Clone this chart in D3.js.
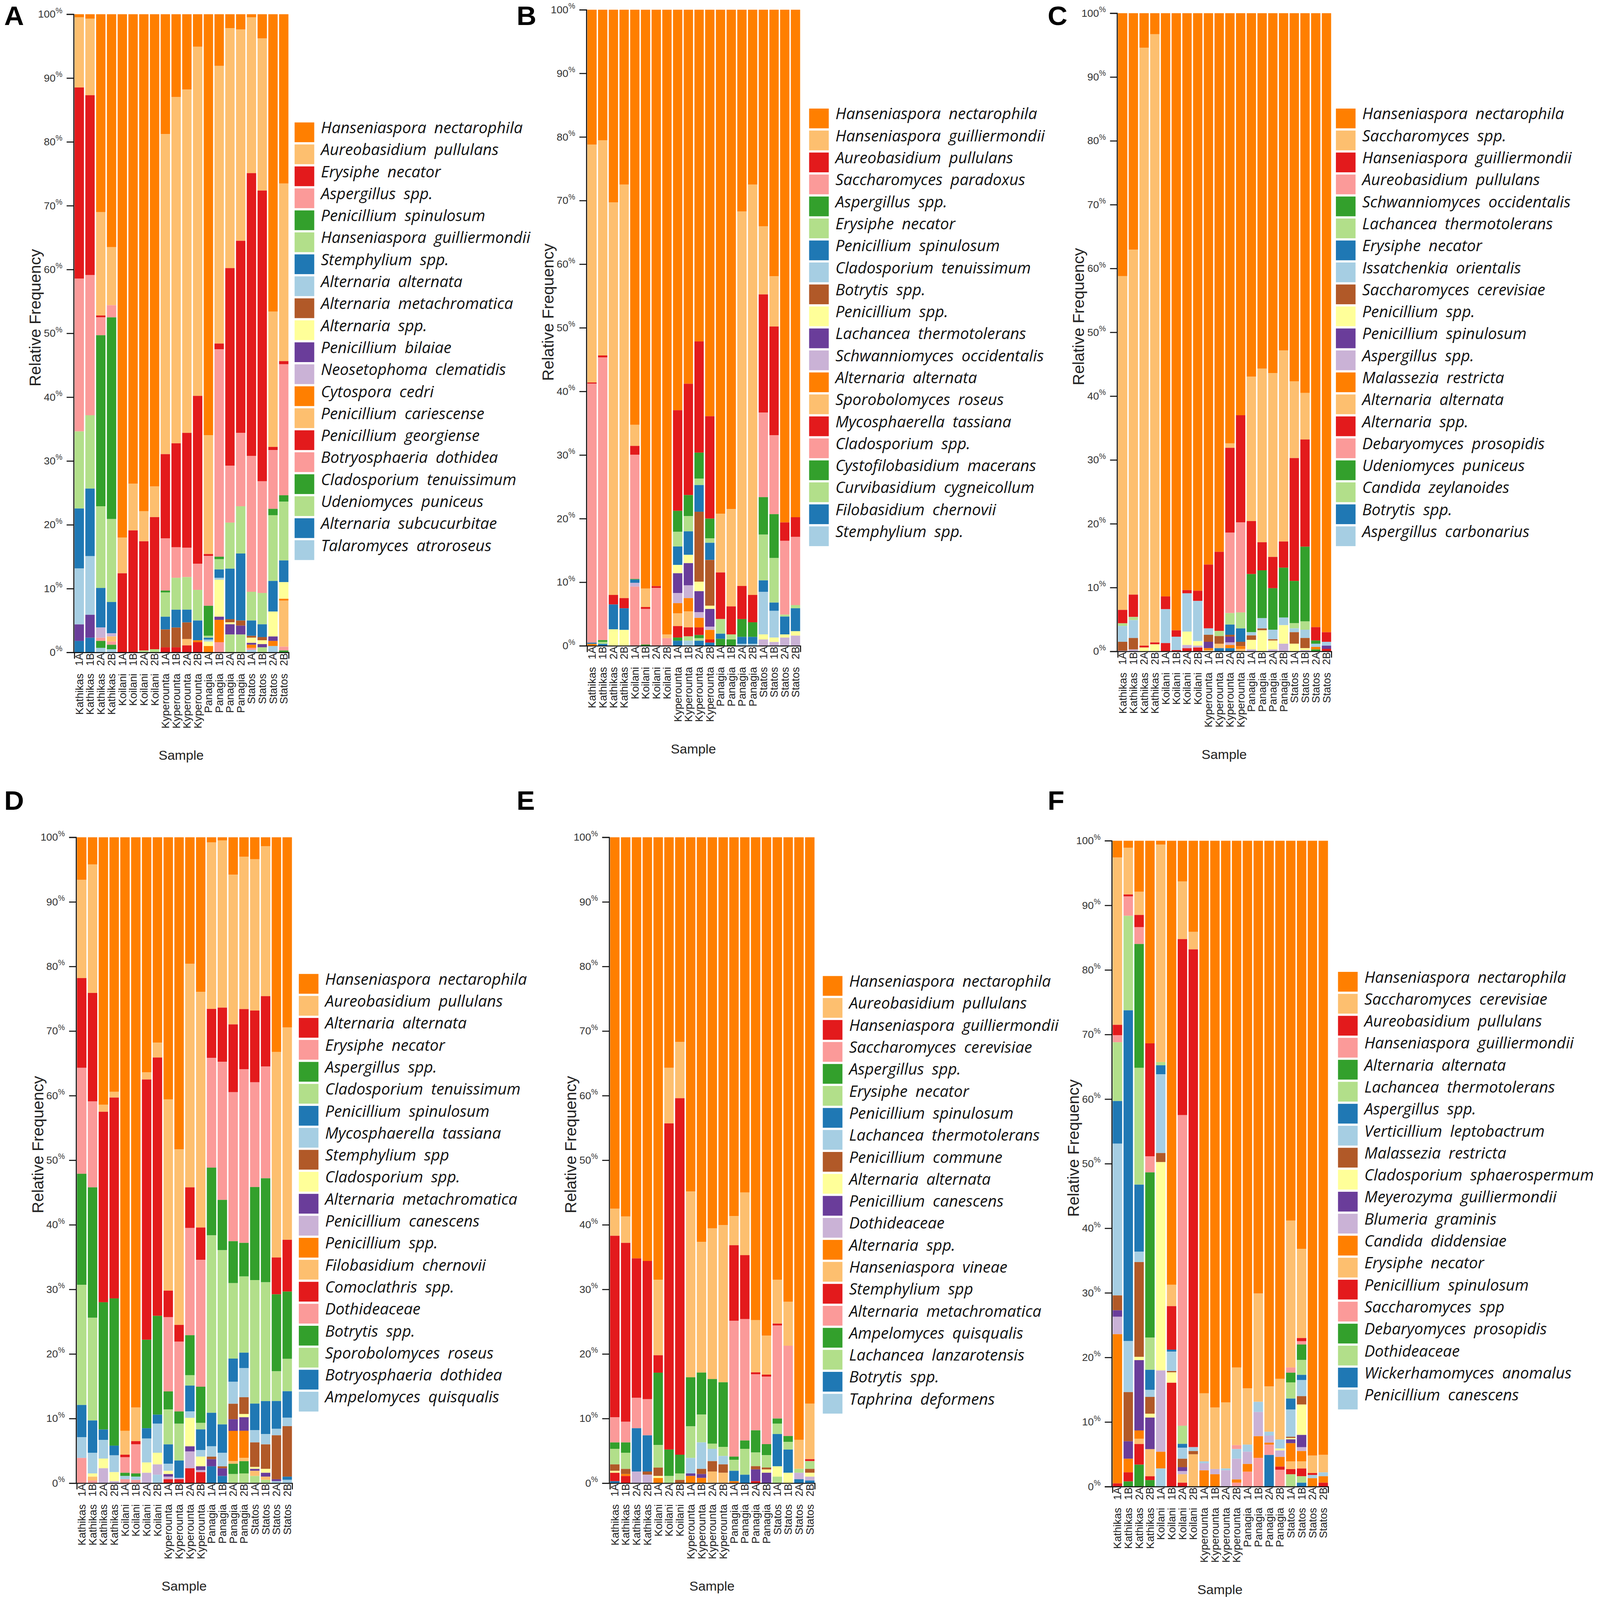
<!DOCTYPE html>
<html>
<head>
<meta charset="utf-8">
<script src="https://cdn.jsdelivr.net/npm/d3@7"></script>
<style>
  html, body { margin: 0; padding: 0; background: #fff; overflow: hidden; }
  #fig { display: block; width: 100vw; height: 100vh; }
</style>
</head>
<body>
<svg id="fig"></svg>
<script>
// sample names (panel E has no Koilani 1B)
const samples = ["Kathikas 1A","Kathikas 1B","Kathikas 2A","Kathikas 2B","Koilani 1A","Koilani 1B","Koilani 2A","Koilani 2B",
  "Kyperounta 1A","Kyperounta 1B","Kyperounta 2A","Kyperounta 2B","Panagia 1A","Panagia 1B","Panagia 2A","Panagia 2B",
  "Statos 1A","Statos 1B","Statos 2A","Statos 2B"];
const samplesE = samples.filter(s => s !== "Koilani 1B");

const speciesA = ["Hanseniaspora nectarophila","Aureobasidium pullulans","Erysiphe necator","Aspergillus spp.","Penicillium spinulosum",
  "Hanseniaspora guilliermondii","Stemphylium spp.","Alternaria alternata","Alternaria metachromatica","Alternaria spp.",
  "Penicillium bilaiae","Neosetophoma clematidis","Cytospora cedri","Penicillium cariescense","Penicillium georgiense",
  "Botryosphaeria dothidea","Cladosporium tenuissimum","Udeniomyces puniceus","Alternaria subcucurbitae","Talaromyces atroroseus"];
const speciesB = ["Hanseniaspora nectarophila","Hanseniaspora guilliermondii","Aureobasidium pullulans","Saccharomyces paradoxus","Aspergillus spp.",
  "Erysiphe necator","Penicillium spinulosum","Cladosporium tenuissimum","Botrytis spp.","Penicillium spp.",
  "Lachancea thermotolerans","Schwanniomyces occidentalis","Alternaria alternata","Sporobolomyces roseus","Mycosphaerella tassiana",
  "Cladosporium spp.","Cystofilobasidium macerans","Curvibasidium cygneicollum","Filobasidium chernovii","Stemphylium spp."];
const speciesC = ["Hanseniaspora nectarophila","Saccharomyces spp.","Hanseniaspora guilliermondii","Aureobasidium pullulans","Schwanniomyces occidentalis",
  "Lachancea thermotolerans","Erysiphe necator","Issatchenkia orientalis","Saccharomyces cerevisiae","Penicillium spp.",
  "Penicillium spinulosum","Aspergillus spp.","Malassezia restricta","Alternaria alternata","Alternaria spp.",
  "Debaryomyces prosopidis","Udeniomyces puniceus","Candida zeylanoides","Botrytis spp.","Aspergillus carbonarius"];
const speciesD = ["Hanseniaspora nectarophila","Aureobasidium pullulans","Alternaria alternata","Erysiphe necator","Aspergillus spp.",
  "Cladosporium tenuissimum","Penicillium spinulosum","Mycosphaerella tassiana","Stemphylium spp","Cladosporium spp.",
  "Alternaria metachromatica","Penicillium canescens","Penicillium spp.","Filobasidium chernovii","Comoclathris spp.",
  "Dothideaceae","Botrytis spp.","Sporobolomyces roseus","Botryosphaeria dothidea","Ampelomyces quisqualis"];
const speciesE = ["Hanseniaspora nectarophila","Aureobasidium pullulans","Hanseniaspora guilliermondii","Saccharomyces cerevisiae","Aspergillus spp.",
  "Erysiphe necator","Penicillium spinulosum","Lachancea thermotolerans","Penicillium commune","Alternaria alternata",
  "Penicillium canescens","Dothideaceae","Alternaria spp.","Hanseniaspora vineae","Stemphylium spp",
  "Alternaria metachromatica","Ampelomyces quisqualis","Lachancea lanzarotensis","Botrytis spp.","Taphrina deformens"];
const speciesF = ["Hanseniaspora nectarophila","Saccharomyces cerevisiae","Aureobasidium pullulans","Hanseniaspora guilliermondii","Alternaria alternata",
  "Lachancea thermotolerans","Aspergillus spp.","Verticillium leptobactrum","Malassezia restricta","Cladosporium sphaerospermum",
  "Meyerozyma guilliermondii","Blumeria graminis","Candida diddensiae","Erysiphe necator","Penicillium spinulosum",
  "Saccharomyces spp","Debaryomyces prosopidis","Dothideaceae","Wickerhamomyces anomalus","Penicillium canescens"];

// one row per sample, values (%) in legend order; missing trailing values are 0
const valuesA = [
  [0.5,11,30,24,0,12.1,9.4,8.8,0,0,2.6,0,0,0,0,0,0,0,1.8,0],
  [0.7,12,28.2,22,0,11.5,10.6,9.2,0,0,3.6,0,0,0,0,0,0,0,2.3,0],
  [31,16.2,0.3,2.8,26.8,12.8,6.2,0,0,0,0,1.6,0,0,0,0.5,1.1,0,0,0.7],
  [36.5,9.1,0,1.9,31.6,13,4.9,0,0,0,0,0.5,0,0.8,0,0.5,0.7,0,0,0.5],
  [82,5.6,12.4],
  [73.5,7.3,19.1],
  [77.8,4.7,17.1,0,0,0.3],
  [74,4.8,20.7,0,0,0.5],
  [18.8,50.2,13.2,8.2,0.3,3.8,2,0,2.8,0,0,0,0,0,0.8],
  [13,54.3,16.3,4.8,0,5,2.8,0,3.1,0,0,0,0,0,0.8],
  [11.8,53.8,18,4.6,0,5.1,2,0,2.6,0,0,0,0,1,1.1],
  [5.1,54.7,26.3,4.1,0,4.8,3.1,0,0,0,0,0,0.3,0,1.6],
  [65.9,18.6,0.3,7.8,4.7,0.3,0.3,0.3,0,0.7,0,0,1],
  [8.1,43.5,0.9,32.5,0.4,1.6,1.3,0.3,0,5.8,0.5,0,3.5,0,0,1.6],
  [2.2,37.5,30.9,8.9,0,7.2,7.9,0,0.5,0.3,1.6,0,0,0,0,0,0,2.8],
  [2.4,33.1,30.1,11.5,0,7.4,10.5,0,0.8,0,1.4,0,0,0,0,0,0,2.8],
  [0.5,24.4,44.3,21.3,0,4.5,2.4,0,0.3,0.8,0.3,0,0.5,0,0,0.3,0,0,0,0.4],
  [3.8,23.8,45.5,17.5,0,4.9,2,0,0.5,0.6,0.5,0,0,0,0,0,0,0.8],
  [46.6,21.2,0.5,9.2,1,10.3,4.8,0,0,3.9,0.7,0,0.8,0,0,0,0,0,0,1],
  [26.5,27.8,0.5,20.5,1,9.2,3.4,0,0,2.6,0,0,0.3,7.2,0,0.6,0.3]
];
const valuesB = [
  [21.2,37.4,0.2,40.7,0,0,0.2,0,0,0,0,0,0.3],
  [20.5,33.8,0.3,44.4,0.3,0.3,0.3],
  [30.3,61.7,1.5,0,0,0,3.9,0,0,2.6],
  [27.5,65,1.6,0,0,0,3.4,0,0,2.5],
  [65.2,3.3,1.4,19.5,0.1,0,0.5,0,0,0,0,0.6,0,0,0,9.3],
  [91,2.9,0.3,5.6,0.2],
  [90.7,0,0.3,9.1],
  [98.2,0.6,0,1.2],
  [62.9,0,15.8,0,3.3,2.3,2.9,0,0,1.3,3.1,1.6,1.6,2,1.8,0,0.5,0,0.8],
  [58.8,0,17.5,0,3.3,2.4,3.7,0,0,1.3,3.5,2,2.1,2.5,1.4,0,0,0.7,0,0.8],
  [52.2,0,17.5,0,4.1,1,4.2,0,11,1.5,3.3,0.9,1.5,0,1.2,0,0.5,0.4,0.8],
  [63.9,0,16.1,0,3.1,0.7,2.7,0,7.2,0.5,2.8,0.5,1.5,0,0.5,0,0,0,0.5],
  [79,9.2,7.3,0,0,2.3,0.8,0,0,0,0,0,0,0,0,0,1.1],
  [78.5,15.3,4.4,0,0,0.8,0,0,0,0,0,0,0,0,0,0,1],
  [31.7,58.8,5.2,0,2.8,0,1.1,0.3],
  [27.5,64.5,4.3,0,2.3,0,1.1,0.3],
  [34.1,10.7,18.6,13.3,5.9,7.2,1.8,6.7,0,0.8,0,1],
  [41.9,7.9,17.1,12.4,6.9,7,1.3,4.2,0,0.7,0,0.6],
  [80.6,0,2.9,11.6,0,0.3,2.8,0,0,0.5,0,1.3],
  [79.7,0,3.1,10.7,0,0.5,3.6,0,0,0.7,0,1.6]
];
const valuesC = [
  [41.2,52.3,2.1,0,0,0.4,0,2.5,1.4,0,0,0.1],
  [37.1,54.1,3.5,0,0,0.5,0,2.8,1.8,0,0,0.3],
  [5.4,93.6,0.3,0,0,0,0,0,0,0.6],
  [3.3,95.2,0.3,0,0,0,0,0,0,1.1],
  [91.3,0,2,0,0,0,0,5.3,0,0,0,0,0,0,1.3],
  [96.7,0,1,0,0,0,0,2.1,0,0,0,0,0,0,0.2],
  [90.4,0,0.5,0,0,0,0,6,0,2.1,0,0.5,0,0,0.5],
  [90.5,0,1.6,0,0,0,0,6.3,0,0.7,0,0.3,0,0,0.6],
  [86.4,0,10,0,0,0,0,1,1.1,0,1,0,0.3,0.2],
  [84.4,0,12.4,0,0,0.8,0,0,1.2,0,0,0,0,0.7,0,0,0,0,0.5],
  [67.4,0.7,13.3,12.6,0,1.8,1.6,0,0.3,0,0.9,0.4,0.5,0,0,0,0,0,0.5],
  [63,0,16.8,14.1,0,2.5,2.1,0,0.7,0,0,0,0.4,0.4],
  [56.9,22.6,8.3,0,9.1,0,0,0.5,0.7,1.5,0,0.3],
  [55.7,27.2,4.4,0,7.5,0,0,1.6,0.3,3.3],
  [56.4,28.8,4.9,0,6.5,0,0,1.5,0.2,1.4,0,0.3],
  [52.8,29.9,4.1,0,7.8,0,0,1.2,0,2.9,0,1.2],
  [57.5,12,19.2,0,6.6,0.8,0,0.6,1.8,1.2],
  [59.5,7.3,16.8,0,11.7,1.3,0,1.3,1.6,0.3,0,0.2],
  [96.2,0,2.1,0,0.5,0,0,0.5,0,0,0,0,0.4,0,0,0,0.3],
  [97,0,1.5,0,0,0,0,0.6,0,0,0.5,0,0,0,0.4]
];
const valuesD = [
  [6.6,15.2,13.9,16.4,17.2,18.6,5,3.2,0,0,0,0,0,0,0,3.9],
  [4.2,19.9,16.8,13.3,20.2,15.9,5,3.2,0,0.5,0,0,0,0.6,0,0.4],
  [41.4,1.1,29.5,0,19.7,0,1.6,2.9,0,1.5,0,2.3],
  [39.4,0.9,31.1,0,22.8,0,1.5,2.6,0,1.4,0,0.3],
  [91.9,3.7,0.4,2.4,0.5,0,0,0.5,0,0,0,0,0,0,0,0.6],
  [88.3,5.2,0.5,4.5,0.5,0,0,0.5,0,0,0,0,0,0,0,0.5],
  [36.4,1.1,40.3,0,13.7,0,1.6,3.7,0,1.6,0,1.6],
  [31.8,2.3,40,0,15.3,0,1.4,4.5,0,1.8,0,1.6,0,0,0,0,0,0,0,1.3],
  [40.6,29.6,4.1,11.5,2.8,5.4,3,1.1,0,0.5,0.4,0.4,0,0,0.6],
  [48.3,27.2,2.6,10.8,1.9,5.7,2.7,0,0,0,0,0.2,0,0,0.6],
  [19.6,34.6,6.3,16.6,6.2,1.6,4,1,0,4.4,0.8,2.6,0,0,2.3],
  [23.9,36.4,5,19.6,5.6,1,3.2,1,0,1.5,0.6,0.3,0,0,1.7],
  [0.8,25.8,7.6,17,10.5,27.5,5.2,1.6,0.4,0,1.1,0,0,0,0,0,0,0,2.6],
  [0.5,25.9,8.4,21.4,7.8,27,4.4,2.1,0.3,0,1.2,0,0,0,0,0,0,0,1.1],
  [5.8,23.2,10.5,23.1,6.5,11.7,3.6,3.4,2.4,0,1.8,0,4.7,0.4,0,0,1.6,1.4],
  [3,23.6,9.3,26.9,5.2,11.8,2.4,4.5,2.6,0.5,2.1,0,4.2,0.5,0,0,1.9,1.5],
  [3.4,23.4,11.1,16.2,14.4,19.1,4.1,1.9,3.8,0.3,0.3,0,0,0.8,0,0,0,1.1],
  [1.4,23.2,10.9,17.3,16.1,18.4,5.1,1.6,3.8,0.6,0.6,0,0,0.5,0,0,0,0.5],
  [33.2,31.8,5.7,0,11.9,4.6,4.3,1,6.8,0,0.3,0,0,0,0,0,0,0,0,0.3],
  [29.4,32.8,8,0,10.4,5,4.1,1.3,7.8,0,0,0,0,0,0,0,0,0,0.5,0.5]
];
const valuesE = [
  [57.5,4.2,28.1,3.9,1,2.4,0,0,1,0.3,0,0,0,0,1.3,0,0,0,0.3],
  [58.7,4.1,27.7,3.2,1.6,2.5,0,0,0.8,0,0,0,0.3,0,1.1],
  [65.2,0,21.6,4.7,0,0,6.7,0,0,0,0,1.8],
  [65.6,0,21.4,5.6,0,0,5.6,0,0.5,0,0,1.3],
  [68.5,11.7,2.7,0,11.2,3.5,0,0,1.3,0.3,0,0,0.8],
  [35.7,8.6,50.5,0,4.1,1.1],
  [31.7,8.7,55.2,0,2.9,1,0,0,0.5],
  [54.9,28.8,0,0,7.6,4.9,0,2.4,0,0,0.4,0,1.1],
  [62.6,20.2,0,0,6.5,4.3,0,4.1,0.8,0,0.6,0,0.8],
  [60.5,23.3,0,0,10,0.8,0,1.9,1.6,0,0,0,0,1.8],
  [60,24.3,0,0,10,1.4,0,1.3,1.3,0,0,0,0,1.6],
  [58.6,4.5,11.7,21,0.5,1.7,1.6,0,0,0,0,0,0.3],
  [55,9.7,9.9,18.8,1.3,4,1.3],
  [74.1,8,0.3,8.6,3.4,2.1,0,0,0.5,0,1.8,0,0,0,0.3],
  [76.7,6,0.3,10.4,1.7,1.9,0,0,0.3,0.5,1.6],
  [68.5,6.8,0.3,14.4,0.8,1.6,5,0,0,1.6,0,0,0,0,0,0,0,1],
  [72,6.8,0,14,0.9,1.2,3.6,0,0,1.6],
  [93.2,4.5,0,0,0,0.6,0,0,0,0,0,1,0,0,0,0,0,0,0.6],
  [87.5,8.6,0.3,0,0,1.2,0,0,0.6,0.6,0,0.6,0,0,0,0,0,0,0.4]
];
const valuesF = [
  [2.6,25.9,1.6,1.1,0,9.1,6.6,23.5,2.3,0,1,2.7,23.1,0,0.5],
  [1.1,7.2,0.3,3,0,14.6,51.1,7.9,7.6,0,2.7,0,2.1,0,1.4,0,0.8],
  [7.9,3.6,1.9,2.6,19.2,18.1,10.4,1.6,14.7,0.5,10.9,0,1.3,0.8,3.2,0,3.4],
  [31.4,0,17.5,2.5,25.6,5,3.1,1.1,2.6,0.6,4.9,0,0,4.2,0.6,0,1],
  [0.6,33.7,0,0,0,0.5,1.4,12.2,1.4,32.3,0,12.6,2.6,0,0,0,0,0,0,2.8],
  [68.4,3.3,6.7,0,0,0,0.3,3,0.2,1.6,0,0,0,0,16],
  [6.3,8.9,27.2,48,0,2.8,0.6,1.7,1.3,0,0.6,0.5,0,1.3,0.6],
  [14.1,2.7,77,0,0,0,0,0.6,0.5,0,0,0,0,5],
  [85.3,10.5,0,0,0,0,0,0.3,0,0,0,1.1,2.5],
  [87.4,9.5,0,0,0,0,0,0,0,0,0,0.8,1.9],
  [86.7,10.2,0,0,0,0,0,0.3,0,0,0,2.5],
  [81.4,12,0,0.6,0,0,0,1.5,0,0,0,3.2,0.5,0,0,0.6],
  [84.8,8.7,0,0,0,0,0,1.1,0,0,0,1.9,1.2,0,0,2.3],
  [71,17,0,0,0,0,0,1.6,0,0,0,3.8,3.4,0,0,4.5],
  [84.5,7,0,0,0,0,0,0.6,0,0,0,1.1,0.3,0,0,1.6,0,0,4.9],
  [83.4,9.4,0,0,0,0,0,1.4,0,0.3,0,1,1.5,0,0.5,2.6],
  [58.7,22.7,0,0.8,1.5,2.5,1.7,4.2,0.2,0.2,0.6,0,2.8,1.2,0.8,0,0,1.9],
  [63.2,13.8,0.5,0.5,2.4,2.3,0.8,2.5,1.3,4.7,1.9,0.6,1.6,1.1,1.2,0,0,1,0.6],
  [95.3,2.7,0.3,0,0,0,0,0.5,0,0,0,0,1.3],
  [95,2.7,0,0,0,0,0,0.6,0,0,0,0,1,0,0.6]
];

const yTicks = [0,10,20,30,40,50,60,70,80,90,100];

// colour cycle of the figure (12 colours, repeated for species 13-20)
const palette = ["#ff7f00","#fdbf6f","#e31a1c","#fb9a99","#33a02c","#b2df8a",
                 "#1f78b4","#a6cee3","#b15928","#ffff99","#6a3d9a","#cab2d6"];

const W = 4562, H = 4613;
const font = "'Liberation Sans', Arial, sans-serif";

const panels = [
  {letter:"A", samples:samples,  species:speciesA, values:valuesA, axisX:210,  right:823,  top:41,   bottom:1881, legX:840,  legY:353,  lx:12,   ly:72},
  {letter:"B", samples:samples,  species:speciesB, values:valuesB, axisX:1672, right:2282, top:28,   bottom:1862, legX:2307, legY:313,  lx:1473, ly:72},
  {letter:"C", samples:samples,  species:speciesC, values:valuesC, axisX:3185, right:3796, top:38,   bottom:1878, legX:3809, legY:313,  lx:2987, ly:72},
  {letter:"D", samples:samples,  species:speciesD, values:valuesD, axisX:217,  right:833,  top:2414, bottom:4276, legX:852,  legY:2808, lx:12,   ly:2335},
  {letter:"E", samples:samplesE, species:speciesE, values:valuesE, axisX:1737, right:2323, top:2414, bottom:4276, legX:2346, legY:2814, lx:1473, ly:2335},
  {letter:"F", samples:samples,  species:speciesF, values:valuesF, axisX:3170, right:3787, top:2424, bottom:4286, legX:3815, legY:2802, lx:2987, ly:2335}
];

const svg = d3.select("#fig")
  .attr("viewBox", `0 0 ${W} ${H}`)
  .attr("preserveAspectRatio", "none");
svg.append("rect").attr("width", W).attr("height", H).attr("fill", "#fff");

panels.forEach(p => {
  const g = svg.append("g");
  const keys = d3.range(p.species.length);
  const rows = p.values.map((v, i) => ({ sample: i, v: keys.map(k => v[k] || 0) }));

  // first legend entry on top of the bar, last one at the bottom
  const series = d3.stack()
    .keys(keys)
    .value((d, k) => d.v[k])
    .order(d3.stackOrderReverse)
    .offset(d3.stackOffsetExpand)(rows);

  const x = d3.scaleBand().domain(d3.range(p.samples.length))
    .range([p.axisX + 2, p.right]).paddingInner(0.13).paddingOuter(0.02);
  const y = d3.scaleLinear().domain([0, 1]).range([p.bottom, p.top]);
  const color = d3.scaleOrdinal().domain(keys).range(palette);

  g.append("g").selectAll("g").data(series).join("g")
    .attr("fill", s => color(s.key))
    .selectAll("rect").data(s => s).join("rect")
    .attr("x", d => x(d.data.sample))
    .attr("width", x.bandwidth())
    .attr("y", d => y(d[1]))
    .attr("height", d => Math.max(0, y(d[0]) - y(d[1])));

  // y axis
  const ya = g.append("g").attr("transform", `translate(${p.axisX},0)`)
    .call(d3.axisLeft(y).tickValues(yTicks.map(t => t / 100)).tickSize(20).tickPadding(12)
      .tickFormat(d => Math.round(d * 100)));
  ya.attr("font-family", font);
  ya.select(".domain").attr("stroke", "#111").attr("stroke-width", 3);
  ya.selectAll(".tick line").attr("stroke", "#111").attr("stroke-width", 3);
  ya.selectAll(".tick text").attr("font-size", 30).attr("fill", "#333")
    .append("tspan").attr("font-size", 22).attr("dy", "-0.6em").text("%");

  // x axis
  const xa = g.append("g").attr("transform", `translate(0,${p.bottom})`)
    .call(d3.axisBottom(x).tickSize(0).tickSizeOuter(18)
      .tickFormat(i => p.samples[i].split(" ")[1]));
  xa.attr("font-family", font);
  xa.select(".domain").attr("stroke", "#111").attr("stroke-width", 3);
  xa.selectAll(".tick text")
    .attr("transform", "rotate(-90)").attr("x", -2).attr("y", 0).attr("dy", "0.35em")
    .attr("text-anchor", "end").attr("font-size", 30).attr("fill", "#222");
  xa.selectAll(".tick").append("text")
    .attr("transform", "rotate(-90)").attr("x", -61).attr("y", 0).attr("dy", "0.35em")
    .attr("text-anchor", "end").attr("font-size", 31).attr("fill", "#222")
    .text(i => p.samples[i].split(" ")[0]);

  // axis titles
  g.append("text")
    .attr("transform", `translate(${p.axisX - 110},${(p.top + p.bottom) / 2 - 45}) rotate(-90)`)
    .attr("text-anchor", "middle").attr("dy", "0.35em")
    .attr("font-family", font).attr("font-size", 46).attr("fill", "#222")
    .text("Relative Frequency");
  g.append("text")
    .attr("x", (p.axisX + p.right) / 2).attr("y", p.bottom + 310)
    .attr("text-anchor", "middle")
    .attr("font-family", font).attr("font-size", 38).attr("fill", "#222")
    .text("Sample");

  // panel letter
  g.append("text").attr("x", p.lx).attr("y", p.ly)
    .attr("font-family", font).attr("font-weight", "bold").attr("font-size", 78)
    .text(p.letter);

  // legend
  const items = g.append("g").attr("transform", `translate(${p.legX},${p.legY})`)
    .selectAll("g").data(keys).join("g")
    .attr("transform", k => `translate(0,${k * 63.4})`);
  items.append("rect").attr("width", 56).attr("height", 57).attr("fill", k => color(k));
  items.append("text").attr("x", 75).attr("y", 31)
    .attr("font-family", "'Open Sans', sans-serif").attr("font-style", "italic")
    .attr("font-size", 45).attr("word-spacing", 11).attr("fill", "#111")
    .text(k => p.species[k]);
});
</script>
</body>
</html>
